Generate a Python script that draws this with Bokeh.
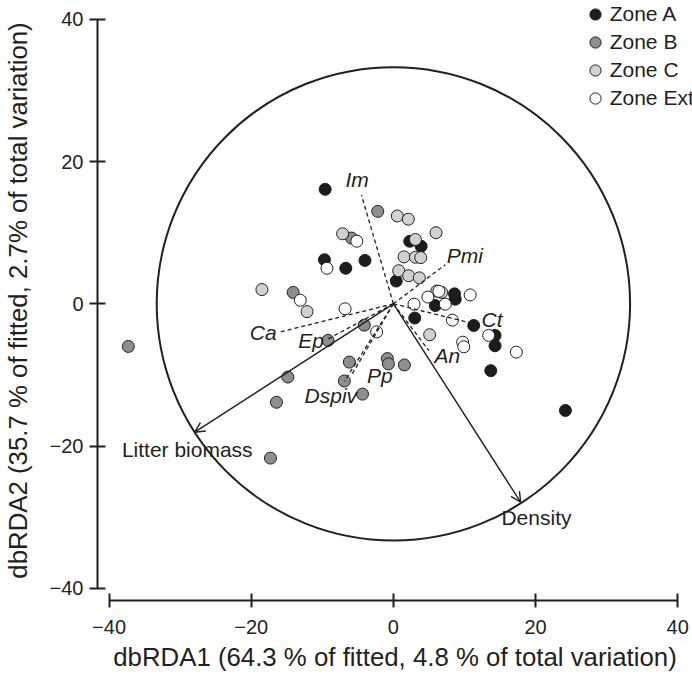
from bokeh.plotting import figure
from bokeh.models import (Range1d, FixedTicker, Arrow, OpenHead, ColumnDataSource,
                          Legend, LegendItem)
from bokeh.core.properties import value
from bokeh.embed import file_html
from bokeh.resources import INLINE

# ---------------- data ----------------
zone_a_x = [-9.6, 2.3, 3.9, -9.7, -6.7, -4.0, 0.4, 5.9, 3.0, 8.6, 8.7, 11.3, 14.3, 14.3, 13.7, 24.2]
zone_a_y = [16.1, 8.8, 8.1, 6.2, 5.0, 6.1, 3.2, -0.25, -2.0, 1.4, 0.65, -3.05, -4.45, -5.9, -9.4, -15.0]

zone_b_x = [-2.2, -5.9, -14.1, -37.3, -4.1, -9.2, -6.2, -0.85, -0.7, 1.55, -14.85, -6.9, -4.35, -16.45, -17.3]
zone_b_y = [13.0, 9.25, 1.6, -6.0, -3.0, -5.15, -8.2, -7.7, -8.45, -8.6, -10.3, -10.85, -12.7, -13.85, -21.7]

zone_c_x = [0.55, 2.1, 6.0, -7.15, 3.1, 1.5, 3.1, 3.85, 0.75, 2.15, 3.65, -18.5, -12.15, 6.1, 6.8, 5.1]
zone_c_y = [12.35, 11.9, 10.0, 9.85, 9.05, 6.6, 6.55, 6.5, 4.65, 3.95, 3.65, 2.0, -1.1, 1.8, 1.6, -4.35]

zone_ext_x = [-5.15, -9.35, -13.1, -6.8, -2.35, 4.85, 2.9, 7.3, 6.4, 10.8, 8.3, 13.4, 9.75, 9.9, 17.3]
zone_ext_y = [8.8, 5.0, 0.5, -0.7, -3.95, 0.95, -0.05, -0.05, 1.75, 1.25, -2.3, -4.45, -5.4, -6.05, -6.8]

zone_names = ["Zone A", "Zone B", "Zone C", "Zone Ext"]

# environmental vectors (solid arrows)
env_names = ["Litter biomass", "Density"]
env_x = [-27.95, 17.9]
env_y = [-18.06, -27.9]

# species vectors (dashed)
sp_names = ["Im", "Pmi", "Ca", "Ep", "Dspiv", "Pp", "Ct", "An"]
sp_x = [-4.5, 7.3, -16.1, -9.3, -6.9, -6.0, 11.3, 5.0]
sp_y = [15.3, 5.5, -4.0, -5.0, -10.9, -10.2, -2.8, -6.6]

circle_radius = 33.3

tick_values = [-40, -20, 0, 20, 40]
tick_labels = ["\u221240", "\u221220", "0", "20", "40"]

x_title = "dbRDA1 (64.3 % of fitted, 4.8 % of total variation)"
y_title = "dbRDA2 (35.7 % of fitted, 2.7% of total variation)"

# ---------------- layout / style ----------------
ink = "#231f20"
font = "Liberation Sans"
zone_colors = ["#1c1c1c", "#8e8e90", "#cfd1d3", "#ffffff"]

# label anchor positions (annotation layout)
sp_lab_x = [-5.1, 7.5, -16.43, -9.76, -8.8, -3.7, 12.4, 5.78]
sp_lab_y = [17.45, 6.8, -4.1, -5.16, -12.9, -10.1, -2.2, -7.27]
sp_lab_align = ["center", "left", "right", "right", "center", "left", "left", "left"]
env_lab_x = [-38.2, 15.2]
env_lab_y = [-20.5, -30.1]

p = figure(width=692, height=678,
           x_range=Range1d(-41.63, 42.08), y_range=Range1d(-41.73, 42.66),
           output_backend="svg", toolbar_location=None,
           min_border_left=94, min_border_right=0, min_border_top=0, min_border_bottom=78,
           x_axis_label=x_title, y_axis_label=y_title)
p.grid.visible = False
p.outline_line_color = None
p.background_fill_color = "white"
p.border_fill_color = "white"

for ax in (p.xaxis[0], p.yaxis[0]):
    ax.bounds = (-40, 40)
    ax.ticker = FixedTicker(ticks=tick_values)
    ax.major_label_overrides = {v: s for v, s in zip(tick_values, tick_labels)}
    ax.axis_line_width = 2
    ax.axis_line_color = ink
    ax.major_tick_line_width = 2
    ax.major_tick_line_color = ink
    ax.minor_tick_line_color = None
    ax.major_label_text_font = font
    ax.major_label_text_font_size = "20px"
    ax.major_label_text_color = ink
    ax.axis_label_text_font = font
    ax.axis_label_text_font_size = "25.8px"
    ax.axis_label_text_font_style = "normal"
    ax.axis_label_text_color = ink

p.xaxis[0].major_tick_in = 7
p.xaxis[0].major_tick_out = 7
p.xaxis[0].major_label_standoff = 12
p.xaxis[0].axis_label_standoff = 6
p.yaxis[0].major_tick_in = 8
p.yaxis[0].major_tick_out = 8
p.yaxis[0].major_label_standoff = 6
p.yaxis[0].axis_label_standoff = 15

# points
renderers = []
for xs, ys, col in zip([zone_a_x, zone_b_x, zone_c_x, zone_ext_x],
                       [zone_a_y, zone_b_y, zone_c_y, zone_ext_y], zone_colors):
    r = p.scatter(xs, ys, size=12, fill_color=col, line_color=ink, line_width=1)
    renderers.append(r)

# circle
p.ellipse(x=[0], y=[0], width=[2 * circle_radius], height=[2 * circle_radius],
          fill_color=None, line_color=ink, line_width=2)

# species dashed vectors
p.segment(x0=[0] * len(sp_x), y0=[0] * len(sp_y), x1=sp_x, y1=sp_y,
          line_color=ink, line_width=1.3, line_dash="4 3")

# environmental arrows
env_src = ColumnDataSource(dict(x0=[0] * len(env_x), y0=[0] * len(env_y), x1=env_x, y1=env_y))
p.add_layout(Arrow(end=OpenHead(size=10, line_width=1.4, line_color=ink),
                   x_start="x0", y_start="y0", x_end="x1", y_end="y1",
                   source=env_src, line_width=1.4, line_color=ink))

# labels
sp_src = ColumnDataSource(dict(x=sp_lab_x, y=sp_lab_y, t=sp_names, a=sp_lab_align))
p.text(x="x", y="y", text="t", text_align="a", text_baseline="middle", source=sp_src,
       text_font=value(font), text_font_style="italic", text_font_size="21px", text_color=ink)
env_src_lab = ColumnDataSource(dict(x=env_lab_x, y=env_lab_y, t=env_names))
p.text(x="x", y="y", text="t", text_align="left", text_baseline="middle", source=env_src_lab,
       text_font=value(font), text_font_size="21px", text_color=ink)

legend = Legend(items=[LegendItem(label=n, renderers=[r]) for n, r in zip(zone_names, renderers)],
                location=(483.7, 488))
legend.border_line_color = None
legend.background_fill_alpha = 0
legend.padding = 0
legend.margin = 0
legend.spacing = -4
legend.glyph_width = 28
legend.glyph_height = 28
legend.label_height = 28
legend.label_standoff = 1
legend.label_text_font = font
legend.label_text_font_size = "21px"
legend.label_text_color = ink
p.add_layout(legend)

open("out.html", "w").write(file_html(p, INLINE))
